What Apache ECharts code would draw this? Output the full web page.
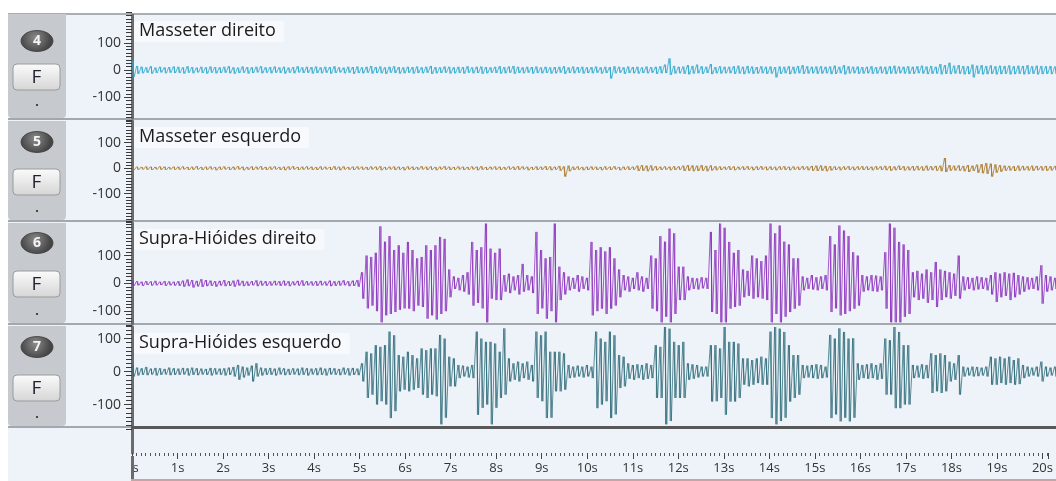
<!DOCTYPE html>
<html>
<head>
<meta charset="utf-8">
<script src="https://cdn.jsdelivr.net/npm/echarts@6/dist/echarts.min.js"></script>
<style>
html,body{margin:0;padding:0;background:#fff;}
#wrap{position:relative;width:1056px;height:481px;}
#chart{width:1056px;height:481px;}
#cover{position:absolute;left:8px;top:456px;width:123px;height:25px;background:#edf3f9;}
#axisfix{position:absolute;left:131px;top:456px;width:3px;height:23px;background:#6b6b6b;}
</style>
</head>
<body>
<div id="wrap"><div id="chart"></div><div id="cover"></div><div id="axisfix"></div></div>
<script>
// ---- data: peak values per 0.1 s bin (t = 0.0 ... 20.1 s) ----
const channelNames = ['Masseter direito', 'Masseter esquerdo', 'Supra-Hióides direito', 'Supra-Hióides esquerdo'];
const channelNumbers = ['4', '5', '6', '7'];
const timeTickLabels = [0,1,2,3,4,5,6,7,8,9,10,11,12,13,14,15,16,17,18,19,20];
const ampTickLabels = [-100, 0, 100];
const binSeconds = 0.1;

const ch4Hi = [
35,15,12,10,14,9,12,10,11,13,
12,10,14,11,9,12,10,13,11,10,
12,14,10,9,13,11,10,12,14,10,
11,13,10,12,9,11,14,10,12,11,
13,10,12,11,14,10,9,12,11,13,
10,12,15,11,13,10,12,14,11,10,
12,11,13,10,12,15,11,10,13,12,
10,12,11,14,10,12,13,11,10,12,
14,11,13,15,12,10,12,11,13,10,
12,10,11,12,14,10,13,11,12,10,
11,13,10,12,11,14,12,10,13,11,
12,10,13,11,12,14,20,43,15,12,
13,18,15,20,14,12,22,11,14,12,
12,14,16,12,15,13,11,14,12,13,
11,13,12,14,12,15,18,14,12,13,
14,12,13,16,12,18,14,12,13,11,
12,14,11,13,12,14,16,13,12,14,
12,14,16,13,15,12,22,18,27,16,
18,15,14,20,16,18,15,17,14,16,
15,17,14,16,15,18,14,16,15,14,
15,13];
const ch4Lo = [
-25,-14,-12,-10,-13,-11,-9,-12,-10,-11,
-11,-13,-10,-12,-9,-11,-13,-10,-12,-11,
-10,-12,-14,-11,-10,-13,-11,-9,-12,-10,
-12,-10,-11,-13,-10,-12,-9,-11,-10,-13,
-11,-12,-10,-13,-11,-9,-12,-10,-14,-11,
-12,-10,-13,-11,-12,-14,-10,-11,-13,-12,
-10,-13,-11,-12,-10,-14,-12,-11,-10,-13,
-12,-11,-13,-10,-12,-11,-14,-12,-10,-11,
-13,-12,-10,-14,-11,-12,-10,-13,-11,-12,
-11,-13,-12,-10,-14,-11,-12,-10,-13,-11,
-12,-10,-13,-11,-31,-12,-10,-14,-11,-12,
-13,-11,-12,-10,-14,-12,-11,-18,-13,-12,
-14,-16,-13,-12,-14,-11,-15,-12,-13,-12,
-12,-14,-13,-15,-12,-14,-13,-12,-14,-13,
-27,-14,-12,-15,-13,-12,-14,-13,-12,-14,
-13,-12,-15,-14,-12,-16,-13,-12,-14,-13,
-12,-14,-13,-12,-15,-13,-14,-12,-13,-14,
-14,-12,-13,-15,-14,-13,-16,-14,-15,-13,
-14,-16,-15,-27,-14,-16,-15,-14,-16,-15,
-14,-16,-15,-14,-16,-15,-14,-16,-15,-14,
-15,-14];

const ch5Hi = [
8,6,5,7,6,5,7,6,5,6,
6,7,5,6,8,5,6,7,5,6,
7,5,6,8,6,5,7,6,8,5,
6,7,5,6,7,8,5,6,7,6,
5,7,6,5,8,6,7,5,6,7,
6,5,7,6,8,5,6,7,6,5,
7,6,5,8,6,7,5,6,8,6,
5,7,6,5,7,6,8,5,6,7,
6,5,7,6,8,7,6,5,7,6,
8,7,6,9,7,10,6,7,5,6,
7,6,5,7,6,8,5,6,7,6,
10,12,10,11,8,6,7,6,8,7,
10,12,11,10,12,9,11,8,7,6,
8,7,6,7,8,6,7,8,6,7,
6,7,8,6,7,6,8,7,9,10,
11,9,8,7,6,7,8,6,7,8,
7,6,8,7,9,8,7,10,8,7,
8,9,7,10,8,9,10,40,12,10,
11,9,12,10,14,16,20,18,15,12,
10,9,8,10,9,8,10,9,8,9,
8,9];
const ch5Lo = [
-7,-6,-5,-6,-7,-5,-6,-7,-5,-6,
-6,-5,-7,-6,-5,-7,-6,-5,-8,-6,
-5,-7,-6,-5,-8,-6,-7,-5,-6,-7,
-6,-5,-7,-8,-6,-5,-7,-6,-5,-7,
-7,-6,-5,-7,-6,-8,-5,-6,-7,-5,
-6,-7,-5,-6,-8,-6,-5,-7,-6,-8,
-5,-7,-6,-5,-7,-6,-8,-5,-6,-7,
-6,-5,-7,-6,-5,-8,-6,-7,-5,-6,
-7,-6,-5,-7,-6,-5,-8,-6,-7,-6,
-7,-8,-6,-10,-33,-12,-7,-6,-8,-7,
-6,-7,-8,-6,-7,-5,-8,-6,-7,-6,
-11,-10,-12,-9,-8,-7,-6,-8,-7,-6,
-11,-10,-12,-11,-10,-12,-9,-8,-7,-6,
-7,-8,-6,-7,-6,-8,-7,-6,-8,-7,
-8,-6,-7,-8,-6,-7,-6,-8,-10,-11,
-10,-12,-9,-7,-8,-6,-7,-8,-6,-7,
-7,-8,-6,-7,-8,-10,-8,-7,-9,-8,
-9,-8,-10,-9,-8,-10,-12,-15,-10,-9,
-10,-12,-15,-11,-18,-20,-22,-33,-18,-14,
-10,-9,-11,-10,-8,-9,-10,-8,-9,-10,
-9,-8];

const ch6Hi = [
10,8,6,8,7,9,6,8,7,6,
8,10,14,12,9,15,12,10,8,9,
12,8,10,13,9,7,8,11,9,8,
7,9,8,10,8,7,9,11,8,7,
8,9,7,10,8,9,11,8,10,12,
40,100,95,110,205,150,170,120,137,110,
149,120,90,95,137,120,137,167,160,50,
25,20,30,40,149,120,130,215,125,110,
125,30,35,25,30,70,30,25,185,120,
90,95,215,60,40,25,20,30,25,20,
149,120,130,115,130,90,50,30,25,20,
40,25,20,100,90,170,150,197,180,60,
60,25,20,18,22,20,185,120,215,200,
149,110,120,50,45,100,90,80,100,215,
180,208,150,140,90,90,25,20,30,22,
25,30,170,140,208,190,170,112,100,30,
25,30,28,25,112,215,200,149,140,120,
40,45,35,50,40,77,50,45,40,35,
100,25,22,20,25,22,20,30,40,35,
40,35,38,30,25,22,20,25,65,30,
25,20];
const ch6Lo = [
-8,-7,-9,-6,-8,-7,-6,-9,-7,-8,
-9,-12,-10,-15,-11,-13,-10,-9,-12,-8,
-10,-9,-12,-8,-10,-9,-7,-10,-8,-9,
-8,-7,-9,-8,-10,-7,-8,-9,-7,-8,
-9,-7,-8,-10,-9,-8,-7,-10,-9,-12,
-55,-90,-80,-100,-140,-115,-110,-103,-95,-90,
-91,-100,-80,-85,-127,-115,-130,-110,-100,-50,
-20,-25,-30,-40,-80,-70,-90,-140,-55,-60,
-60,-30,-35,-25,-40,-30,-25,-35,-110,-90,
-127,-100,-140,-60,-40,-25,-20,-30,-20,-25,
-115,-100,-91,-110,-91,-80,-50,-25,-30,-20,
-25,-30,-20,-91,-100,-140,-120,-140,-110,-60,
-60,-25,-20,-22,-18,-20,-103,-110,-140,-140,
-91,-85,-80,-50,-45,-55,-50,-55,-60,-140,
-110,-140,-120,-103,-91,-80,-25,-20,-22,-25,
-20,-25,-103,-90,-115,-110,-100,-91,-80,-30,
-25,-28,-30,-25,-91,-140,-140,-140,-120,-110,
-50,-60,-55,-70,-60,-85,-60,-50,-55,-45,
-55,-25,-20,-25,-22,-20,-25,-40,-67,-50,
-45,-60,-50,-40,-30,-22,-20,-25,-73,-30,
-25,-20];

const ch7Hi = [
20,12,10,14,9,11,10,8,12,10,
9,11,10,12,10,9,8,11,10,9,
10,12,14,20,15,12,18,25,12,10,
11,9,12,10,8,10,9,12,10,9,
10,12,9,11,10,8,12,10,11,9,
25,60,55,80,75,80,121,110,50,45,
60,50,40,70,65,70,70,111,100,45,
40,20,18,15,20,121,100,90,90,85,
60,131,40,25,30,25,30,20,121,110,
121,60,60,60,55,20,15,18,15,20,
15,121,100,90,121,110,50,45,25,20,
22,20,25,20,80,75,135,130,90,80,
90,25,22,20,15,15,80,80,70,135,
90,90,85,40,40,35,40,45,40,121,
135,130,120,80,50,50,20,18,20,22,
20,15,111,100,131,120,100,101,25,20,
22,25,20,25,100,95,135,120,80,80,
20,18,22,20,55,50,55,50,30,25,
50,15,12,15,14,12,15,45,40,45,
40,45,35,40,20,15,12,15,30,15,
12,15];
const ch7Lo = [
-15,-12,-10,-11,-9,-12,-10,-9,-11,-10,
-10,-9,-12,-10,-11,-9,-10,-12,-9,-10,
-12,-10,-15,-25,-18,-12,-30,-15,-12,-10,
-10,-12,-9,-11,-10,-9,-11,-10,-12,-9,
-11,-10,-12,-9,-10,-11,-9,-12,-10,-11,
-30,-80,-70,-100,-90,-100,-141,-120,-60,-55,
-60,-55,-50,-70,-80,-70,-75,-160,-140,-45,
-45,-20,-15,-18,-20,-131,-110,-100,-160,-110,
-80,-70,-30,-25,-30,-20,-25,-30,-80,-90,
-141,-140,-60,-60,-55,-20,-18,-15,-18,-15,
-20,-111,-100,-90,-141,-130,-50,-45,-22,-25,
-20,-25,-22,-20,-80,-80,-160,-150,-80,-80,
-80,-25,-22,-18,-15,-15,-91,-90,-80,-131,
-91,-91,-80,-40,-45,-40,-35,-40,-40,-141,
-160,-150,-140,-91,-80,-70,-20,-18,-20,-22,
-20,-18,-141,-130,-151,-140,-151,-140,-25,-20,
-22,-20,-25,-22,-70,-70,-111,-111,-100,-100,
-20,-18,-22,-20,-65,-60,-65,-60,-30,-25,
-70,-15,-12,-15,-14,-12,-15,-40,-40,-35,
-40,-35,-40,-38,-20,-15,-12,-15,-30,-15,
-12,-15];

// ---- layout / style ----
const COLORS = ['#2ba6cb', '#a87325', '#8a2cbb', '#2c6978'];
const PANELS = [
  {top: 15,  height: 103, min: -176, max: 202},
  {top: 121, height: 99,  min: -203, max: 185},
  {top: 223, height: 101, min: -146, max: 217},
  {top: 327, height: 100, min: -168, max: 135}
];
const RULER_STEP = 12.5;
const BADGE_Y = [41, 142, 243, 347];
const F_Y = [77, 182, 284, 388];
const DOT_Y = [104, 210, 313, 416];
const COL_BOUNDS = [[14,118],[121,220],[223,323],[326,426]];
const PLOT_LEFT = 132;
const X_MAX = 20.13;
const BG = '#edf3f9';
const FONT = '"Open Sans", "Noto Sans", sans-serif';

const hiArrays = [ch4Hi, ch5Hi, ch6Hi, ch7Hi];
const loArrays = [ch4Lo, ch5Lo, ch6Lo, ch7Lo];

function zigzag(hi, lo) {
  const out = [];
  for (let i = 0; i < hi.length; i++) {
    const t = i * binSeconds;
    out.push([+t.toFixed(3), hi[i]]);
    out.push([+(t + binSeconds / 2).toFixed(3), lo[i]]);
  }
  return out;
}
function minMaxBins(hi, lo) {
  return hi.map((h, i) => [+(i * binSeconds + binSeconds / 4).toFixed(3), lo[i], h]);
}

const grids = [], xAxes = [], yAxes = [], series = [], titles = [];
PANELS.forEach((p, k) => {
  grids.push({left: PLOT_LEFT, right: 0, top: p.top, height: p.height, containLabel: false});
  xAxes.push({type: 'value', gridIndex: k, min: 0, max: X_MAX, show: false});
  yAxes.push({
    type: 'value', gridIndex: k, min: p.min, max: p.max, position: 'left',
    axisLine: {show: true, onZero: false, lineStyle: {color: '#6b6b6b', width: 3}},
    axisTick: {show: true, length: 8, customValues: ampTickLabels, lineStyle: {color: '#444', width: 1}},
    axisLabel: {show: true, customValues: ampTickLabels, margin: 11, fontSize: 14, color: '#333', fontFamily: FONT},
    splitLine: {show: false}
  });
  const color = COLORS[k];
  series.push({
    type: 'line', xAxisIndex: k, yAxisIndex: k,
    data: zigzag(hiArrays[k], loArrays[k]),
    showSymbol: false, symbol: 'none', silent: true, animation: false,
    lineStyle: {color: color, width: 1, opacity: 0.75},
    clip: true, z: 3
  });
  series.push({
    type: 'custom', xAxisIndex: k, yAxisIndex: k,
    data: minMaxBins(hiArrays[k], loArrays[k]),
    silent: true, animation: false, z: 4,
    renderItem: function (params, api) {
      const a = api.coord([api.value(0), api.value(1)]);
      const b = api.coord([api.value(0), api.value(2)]);
      return {type: 'line', shape: {x1: a[0], y1: a[1], x2: b[0], y2: b[1]},
        style: {stroke: color, lineWidth: 1, opacity: 0.9}};
    }
  });
  titles.push({
    text: channelNames[k], left: 134, top: p.top + 6,
    backgroundColor: 'rgba(248,250,253,0.92)', padding: [1, 8, 2, 5], borderRadius: 2,
    textStyle: {fontSize: 18, fontWeight: 'normal', color: '#1b1b1b', fontFamily: FONT},
    z: 10
  });
});
// time axis grid (index 4)
grids.push({left: PLOT_LEFT, right: 0, top: 429, height: 24});
xAxes.push({
  type: 'value', gridIndex: 4, min: 0, max: X_MAX, interval: 1,
  axisLine: {show: false},
  axisTick: {show: true, length: 6, lineStyle: {color: '#444', width: 1}},
  minorTick: {show: true, splitNumber: 10, length: 3, lineStyle: {color: '#555', width: 1}},
  axisLabel: {show: true, margin: 9, fontSize: 13, color: '#333', fontFamily: FONT,
    showMinLabel: true, showMaxLabel: true, hideOverlap: false,
    customValues: timeTickLabels, formatter: v => v + 's'},
  splitLine: {show: false}
});
yAxes.push({
  type: 'value', gridIndex: 4, min: 0, max: 1, position: 'left',
  axisLine: {show: true, lineStyle: {color: '#6b6b6b', width: 3}},
  axisTick: {show: false}, axisLabel: {show: false}, splitLine: {show: false}
});
// ruler ticks: one overlay grid per panel, range widened to multiples of the ruler step
PANELS.forEach((p, k) => {
  const gi = 5 + k;
  const s = p.height / (p.max - p.min);
  const rMin = Math.floor(p.min / RULER_STEP) * RULER_STEP;
  const rMax = Math.ceil(p.max / RULER_STEP) * RULER_STEP;
  grids.push({left: PLOT_LEFT, right: 0, top: p.top - (rMax - p.max) * s, height: (rMax - rMin) * s});
  xAxes.push({type: 'value', gridIndex: gi, min: 0, max: X_MAX, show: false});
  yAxes.push({
    type: 'value', gridIndex: gi, min: rMin, max: rMax, interval: RULER_STEP, position: 'left',
    axisLine: {show: true, lineStyle: {color: 'rgba(0,0,0,0)', width: 0}},
    axisTick: {show: true, length: 6, lineStyle: {color: '#3a3a3a', width: 1}},
    axisLabel: {show: false},
    splitLine: {show: false}
  });
});

// decorative chrome (channel column, separators)
const graphics = [];
graphics.push({type: 'rect', shape: {x: 8, y: 14, width: 1048, height: 467}, style: {fill: BG}, z: -10, silent: true});
graphics.push({type: 'rect', shape: {x: 8, y: 13, width: 1048, height: 2}, style: {fill: '#a9aeb3'}, z: -9, silent: true});
COL_BOUNDS.forEach((b, k) => {
  graphics.push({type: 'rect', shape: {x: 8, y: b[0], width: 58, height: b[1] - b[0], r: [0, 0, 4, 4]}, style: {fill: '#c6cacf'}, z: -8, silent: true});
  graphics.push({type: 'rect', shape: {x: 8, y: b[1], width: 1048, height: 2}, style: {fill: '#a3a8ae'}, z: -7, silent: true});
  graphics.push({type: 'ellipse', shape: {cx: 37, cy: BADGE_Y[k], rx: 16, ry: 10.5},
    style: {fill: new echarts.graphic.RadialGradient(0.45, 0.35, 0.7, [{offset: 0, color: '#8a8a8a'}, {offset: 1, color: '#454545'}]), stroke: '#3c3c3c', lineWidth: 0.8}, z: 5, silent: true});
  graphics.push({type: 'text', x: 37, y: BADGE_Y[k] + 0.5, style: {text: channelNumbers[k], fill: '#f4f4f4', font: 'bold 14px ' + FONT, align: 'center', verticalAlign: 'middle'}, z: 6, silent: true});
  graphics.push({type: 'rect', shape: {x: 13, y: F_Y[k] - 13, width: 47, height: 26, r: 4},
    style: {fill: new echarts.graphic.LinearGradient(0, 0, 0, 1, [{offset: 0, color: '#fbfbfb'}, {offset: 1, color: '#d5d5d5'}]), stroke: '#9a9a9a', lineWidth: 1}, z: 5, silent: true});
  graphics.push({type: 'text', x: 36.5, y: F_Y[k] + 1, style: {text: 'F', fill: '#1e2230', font: '19px ' + FONT, align: 'center', verticalAlign: 'middle'}, z: 6, silent: true});
  graphics.push({type: 'rect', shape: {x: 36, y: DOT_Y[k], width: 2, height: 2}, style: {fill: '#444'}, z: 6, silent: true});
});
graphics.push({type: 'rect', shape: {x: 131, y: 426, width: 925, height: 3}, style: {fill: '#585858'}, z: 20, silent: true});
graphics.push({type: 'rect', shape: {x: 131, y: 479, width: 925, height: 2}, style: {fill: '#c9a4a4'}, z: 20, silent: true});

const chart = echarts.init(document.getElementById('chart'), null, {renderer: 'canvas', width: 1056, height: 481});
chart.setOption({
  animation: false,
  backgroundColor: '#ffffff',
  title: titles,
  grid: grids,
  xAxis: xAxes,
  yAxis: yAxes,
  series: series,
  graphic: {elements: graphics}
});
</script>
</body>
</html>
